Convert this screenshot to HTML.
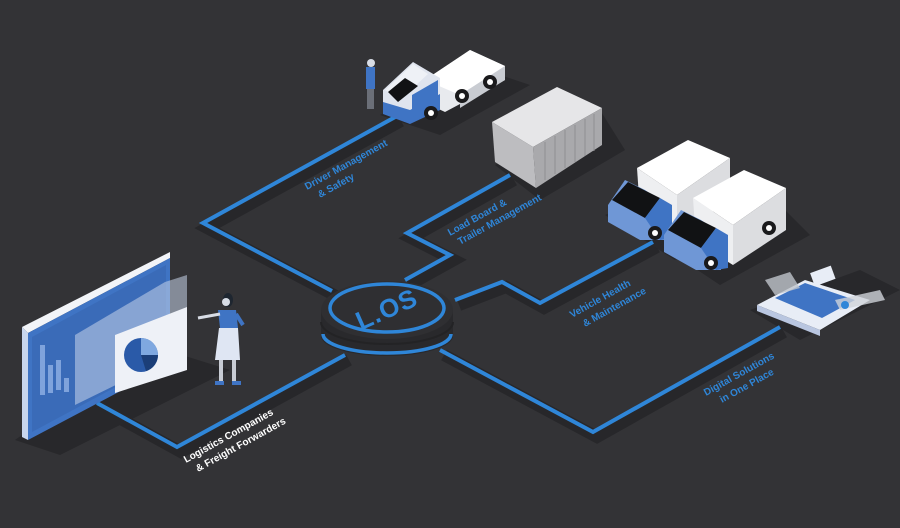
<!DOCTYPE html>
<html><head><meta charset="utf-8"><style>
html,body{margin:0;padding:0;background:#333336;}
svg{display:block}
text{font-family:"Liberation Sans",sans-serif;font-weight:bold;}
</style></head><body>
<svg width="900" height="528" viewBox="0 0 900 528" xmlns="http://www.w3.org/2000/svg">
<rect width="900" height="528" fill="#333336"/>
<g fill="none" stroke="#27272a" stroke-width="12" stroke-linejoin="miter" transform="translate(4,5)">
<polyline points="397,116 203,223 332,291"/>
<polyline points="510,175 407,233 450,255 405,280"/>
<polyline points="455,300 502,282 540,303 653,242"/>
<polyline points="440,350 593,432 780,327"/>
<polyline points="345,355 177,447 97,403"/>
</g>
<g fill="#28282b">
<polygon points="380,115 440,135 530,85 470,65"/>
<polygon points="495,165 540,200 625,150 600,110"/>
<polygon points="605,215 675,260 760,215 720,165"/>
<polygon points="660,245 720,285 810,235 770,195"/>
<polygon points="750,310 800,340 900,290 860,270"/>
<polygon points="15,440 60,455 230,370 150,345"/>
</g>
<g fill="none" stroke="#2f86d8" stroke-width="4" stroke-linejoin="miter">
<polyline points="397,116 203,223 332,291"/>
<polyline points="510,175 407,233 450,255 405,280"/>
<polyline points="455,300 502,282 540,303 653,242"/>
<polyline points="440,350 593,432 780,327"/>
<polyline points="345,355 177,447 97,403"/>
</g>
<!-- hub -->
<path d="M321,310 L321,336 A66,20 0 0 0 453,336 L453,310 Z" fill="#29292c"/>
<path d="M323,334 A64,19 0 0 0 451,334" fill="none" stroke="#2f86d8" stroke-width="3.5"/>
<path d="M321,322 A66,22 0 0 0 453,322" fill="none" stroke="#232325" stroke-width="2"/>
<ellipse cx="387" cy="310" rx="66" ry="29" fill="#2f2f32"/>
<ellipse cx="387" cy="308" rx="57" ry="24" fill="none" stroke="#2f86d8" stroke-width="3.5"/>
<text x="387" y="318" font-size="26" fill="#2f86d8" text-anchor="middle" transform="rotate(-24 387 310)" letter-spacing="1">L.OS</text>
<g font-size="10" fill="#2f86d8">
<text transform="translate(307,190) rotate(-29)">Driver Management</text>
<text transform="translate(320,198) rotate(-29)">&amp; Safety</text>
<text transform="translate(450,236) rotate(-29)">Load Board &amp;</text>
<text transform="translate(460,245) rotate(-29)">Trailer Management</text>
<text transform="translate(572,318) rotate(-29)">Vehicle Health</text>
<text transform="translate(585,327) rotate(-29)">&amp; Maintenance</text>
<text transform="translate(706,396) rotate(-29)">Digital Solutions</text>
<text transform="translate(722,403) rotate(-29)">in One Place</text>
</g>
<g font-size="10" fill="#ffffff">
<text transform="translate(186,463) rotate(-29)">Logistics Companies</text>
<text transform="translate(198,472) rotate(-29)">&amp; Freight Forwarders</text>
</g>
<!-- monitor -->
<polygon points="22,327 170,252 170,258 28,333" fill="#f2f4f8"/>
<polygon points="22,327 28,333 28,440 22,437" fill="#c8d6ee"/>
<polygon points="28,333 170,258 170,365 28,440" fill="#3f74c4"/>
<polygon points="32,337 166,265 166,360 32,432" fill="#3a6bb8"/>
<g fill="#7fa3dc"><rect x="40" y="345" width="5" height="50"/><rect x="48" y="365" width="5" height="28"/><rect x="56" y="360" width="5" height="30"/><rect x="64" y="378" width="5" height="14"/></g>
<polygon points="75,335 165,282 187,275 187,350 75,405" fill="#c7d3ea" opacity="0.55"/>
<polygon points="115,335 187,307 187,370 115,393" fill="#eef1f7"/>
<circle cx="141" cy="355" r="17" fill="#2a5aa8"/>
<path d="M141,355 L141,338 A17,17 0 0 1 158,355 Z" fill="#7fa8e0"/>
<path d="M141,355 L158,355 A17,17 0 0 1 146,371 Z" fill="#1b3e78"/>
<g>
<ellipse cx="228" cy="300" rx="5" ry="7" fill="#1e2630"/>
<circle cx="226" cy="302" r="4" fill="#d8dde6"/>
<path d="M218,310 L236,310 L238,328 L220,328 Z" fill="#3f74c4"/>
<line x1="220" y1="314" x2="198" y2="318" stroke="#d8dde6" stroke-width="3"/>
<line x1="236" y1="314" x2="243" y2="325" stroke="#3f74c4" stroke-width="4"/>
<polygon points="219,328 238,328 240,360 215,360" fill="#dfe6f3"/>
<rect x="219" y="360" width="4" height="22" fill="#c8ccd4"/><rect x="232" y="360" width="4" height="22" fill="#c8ccd4"/>
<rect x="215" y="381" width="9" height="4" fill="#3f74c4"/><rect x="232" y="381" width="9" height="4" fill="#3f74c4"/>
</g>
<!-- flatbed truck + driver -->
<g>
<rect x="366" y="67" width="9" height="22" fill="#3f74c4"/>
<circle cx="371" cy="63" r="4" fill="#d8dde6"/>
<rect x="367" y="89" width="7" height="20" fill="#6b6f78"/>
<polygon points="425,80 470,50 505,66 505,80 445,112 430,105" fill="#e8eaee"/>
<polygon points="425,80 470,50 505,66 460,95" fill="#ffffff"/>
<polygon points="460,95 505,66 505,80 460,108" fill="#c9ccd2"/>
<polygon points="383,90 413,62 440,78 440,105 405,122 383,110" fill="#dfe4ee"/>
<polygon points="385,90 413,64 428,74 400,100" fill="#eef1f6"/>
<polygon points="388,92 405,78 418,86 398,102" fill="#111214"/>
<polygon points="383,102 410,110 440,94 440,110 410,124 383,114" fill="#3f74c4"/>
<polygon points="412,95 438,80 438,100 412,118" fill="#3f74c4"/>
<circle cx="431" cy="113" r="7" fill="#1a1a1c"/><circle cx="431" cy="113" r="3" fill="#fff"/>
<circle cx="462" cy="96" r="7" fill="#1a1a1c"/><circle cx="462" cy="96" r="3" fill="#fff"/>
<circle cx="490" cy="82" r="7" fill="#1a1a1c"/><circle cx="490" cy="82" r="3" fill="#fff"/>
</g>
<!-- container -->
<polygon points="492,122 557,87 602,108 533,147" fill="#e6e6e8"/>
<polygon points="533,147 602,108 602,145 536,188" fill="#a9a9ac"/>
<polygon points="492,122 533,147 536,188 495,162" fill="#bdbdc0"/>
<g stroke="#8e8e92" stroke-width="1">
<line x1="545" y1="142" x2="545" y2="180"/><line x1="555" y1="136" x2="555" y2="174"/><line x1="565" y1="130" x2="565" y2="168"/><line x1="575" y1="125" x2="575" y2="162"/><line x1="585" y1="119" x2="585" y2="156"/><line x1="594" y1="114" x2="594" y2="151"/>
</g>
<!-- box trucks -->
<g id="bt">
<polygon points="637,168 688,140 730,158 677,195" fill="#ffffff"/>
<polygon points="677,195 730,158 730,200 677,235" fill="#dcdde0"/>
<polygon points="637,168 677,195 677,235 640,212" fill="#eeeff1"/>
<polygon points="608,205 625,180 645,190 660,200 665,240 640,240 608,222" fill="#6f97d6"/>
<polygon points="612,200 628,182 660,198 645,218" fill="#111214"/>
<polygon points="645,218 660,198 672,205 672,238 660,240" fill="#3f74c4"/>
<circle cx="655" cy="233" r="7" fill="#1a1a1c"/><circle cx="655" cy="233" r="3" fill="#fff"/>
<circle cx="713" cy="198" r="7" fill="#1a1a1c"/><circle cx="713" cy="198" r="3" fill="#fff"/>
</g>
<use href="#bt" transform="translate(56,30)"/>
<!-- phone/digital -->
<polygon points="757,305 805,280 870,300 820,330" fill="#e8edf6"/>
<polygon points="757,305 820,330 820,336 757,311" fill="#b9c6e0"/>
<polygon points="775,298 805,283 855,300 822,318" fill="#3f74c4"/>
<rect x="812" y="270" width="22" height="14" fill="#e8edf6" transform="rotate(-20 820 277)"/>
<polygon points="765,280 790,272 800,288 775,295" fill="#bfc4cc" opacity="0.8"/>
<polygon points="835,300 880,290 885,300 840,310" fill="#cfd3da" opacity="0.8"/>
<circle cx="845" cy="305" r="4" fill="#2f86d8"/>
</svg>
</body></html>
